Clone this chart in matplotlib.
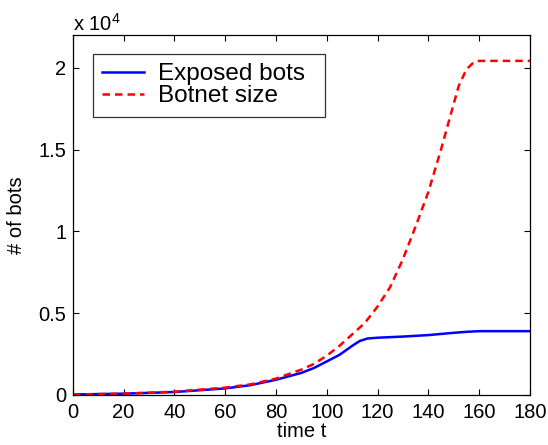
import matplotlib
matplotlib.use("Agg")
import matplotlib.pyplot as plt

# Time samples and bot counts (units of 1e4)
t_exposed = [0, 20, 40, 60, 70, 80, 90, 95, 100, 105, 110, 113, 116, 120,
             130, 140, 150, 155, 160, 180]
exposed = [0.003, 0.008, 0.018, 0.040, 0.060, 0.093, 0.135, 0.165, 0.205,
           0.245, 0.300, 0.330, 0.345, 0.350, 0.357, 0.366, 0.380, 0.386,
           0.390, 0.390]

t_botnet = [0, 20, 40, 60, 70, 80, 90, 95, 100, 105, 110, 115, 120, 125,
            130, 135, 140, 145, 150, 152, 155, 158, 160, 180]
botnet = [0.003, 0.008, 0.020, 0.045, 0.065, 0.100, 0.155, 0.190, 0.240,
          0.300, 0.370, 0.440, 0.540, 0.660, 0.830, 1.030, 1.240, 1.500,
          1.780, 1.890, 1.990, 2.035, 2.042, 2.042]

x_ticks = [0, 20, 40, 60, 80, 100, 120, 140, 160, 180]
y_ticks = [0, 0.5, 1, 1.5, 2]
y_tick_labels = ["0", "0.5", "1", "1.5", "2"]

plt.rcParams.update({
    "font.family": ["Liberation Sans", "DejaVu Sans"],
    "font.size": 14.5,
    "mathtext.fontset": "custom",
    "mathtext.rm": "Liberation Sans",
    "mathtext.it": "Liberation Sans",
})

fig = plt.figure(figsize=(5.48, 4.45), dpi=100)
ax = fig.add_axes([0.1327, 0.1124, 0.8343, 0.8089])

ax.plot(t_exposed, exposed, color="#0000ff", linewidth=1.8, label="Exposed bots")
ax.plot(t_botnet, botnet, color="#ff0000", linewidth=1.8, linestyle=(0, (3.0, 2.0)),
        label="Botnet size")

ax.set_xlim(0, 180)
ax.set_ylim(0, 2.2)
ax.set_xticks(x_ticks)
ax.set_yticks(y_ticks)
ax.set_yticklabels(y_tick_labels)
ax.tick_params(direction="in", length=4, width=0.8, top=True, right=True,
               labelsize=14.5)
ax.tick_params(axis="x", pad=6)
ax.tick_params(axis="y", pad=4.5)
for s in ax.spines.values():
    s.set_linewidth(0.9)

ax.set_xlabel("time t", fontsize=14.5, labelpad=0)
ax.set_ylabel("# of bots", fontsize=14.5, labelpad=9)

# exponent marker above the y axis
ax.text(0.0, 1.011, r"x 10$^{4}$", transform=ax.transAxes, fontsize=14.5,
        ha="left", va="baseline")

# legend box stretched to a fixed width in axes coordinates
leg = ax.legend(loc="upper left", bbox_to_anchor=(0.044, 0.947, 0.508, 0.0),
                mode="expand", fontsize=17.5,
                frameon=True, fancybox=False, handlelength=1.72,
                borderpad=0.38, labelspacing=0.0, handletextpad=0.6,
                borderaxespad=0)
leg.get_frame().set_edgecolor("black")
leg.get_frame().set_linewidth(0.9)

fig.savefig("out.png", dpi=100)
